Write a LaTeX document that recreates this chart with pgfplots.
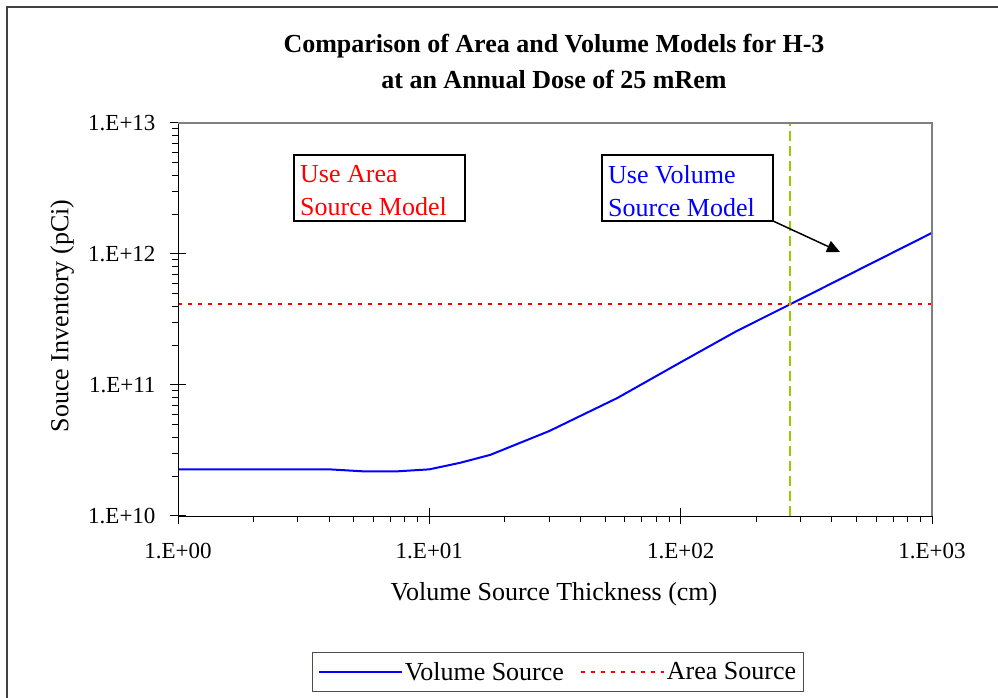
\documentclass[border=0pt]{standalone}
\usepackage{fontspec}
\setmainfont{Liberation Serif}
\usepackage{pgfplots}
\pgfplotsset{compat=1.18}
\usetikzlibrary{arrows.meta}
\definecolor{ygreen}{RGB}{153,204,0}
\begin{document}
\begin{tikzpicture}
\path[use as bounding box] (0pt,0pt) rectangle (998pt,698pt);
\draw[line width=1.5pt, black!75] (7pt,-2pt) -- (7pt,691pt) -- (1000pt,691pt);
\begin{axis}[
  at={(178pt,182pt)}, anchor=south west,
  width=754pt, height=393pt, scale only axis,
  xmode=log, ymode=log,
  xmin=1, xmax=1000, ymin=1e10, ymax=1e13,
  axis line style={draw=none},
  xtick={1,10,100,1000},
  xticklabels={\textrm{1.E+00},\textrm{1.E+01},\textrm{1.E+02},\textrm{1.E+03}},
  ytick={1e10,1e11,1e12,1e13},
  yticklabels={\textrm{1.E+10},\textrm{1.E+11},\textrm{1.E+12},\textrm{1.E+13}},
  minor xtick={2,3,4,5,6,7,8,9,20,30,40,50,60,70,80,90,200,300,400,500,600,700,800,900},
  minor ytick={2e10,3e10,4e10,5e10,6e10,7e10,8e10,9e10,2e11,3e11,4e11,5e11,6e11,7e11,8e11,9e11,2e12,3e12,4e12,5e12,6e12,7e12,8e12,9e12},
  tick align=outside, xtick pos=bottom, ytick pos=left,
  major tick length=8pt, minor tick length=6pt,
  every tick/.style={black, line width=1pt},
  extra x ticks={1,10,100,1000}, extra x tick labels={},
  extra x tick style={tick align=inside, major tick length=8pt},
  extra y ticks={1e10,1e11,1e12,1e13}, extra y tick labels={},
  extra y tick style={tick align=inside, major tick length=8pt},
  tick label style={font=\fontsize{23}{27}\selectfont},
  xticklabel shift=16pt,
  yticklabel shift=11pt,
  xlabel={Volume Source Thickness (cm)},
  ylabel={Souce Inventory (pCi)},
  label style={font=\fontsize{26}{30}\selectfont},
  xlabel style={at={(axis description cs:0.4987,-0.2)}, anchor=center},
  ylabel style={at={(axis description cs:-0.1538,0.509)}, anchor=center},
  title={Comparison of Area and Volume Models for H-3\\at an Annual Dose of 25 mRem},
  title style={at={(axis description cs:0.4987,1.14)}, anchor=center, align=center,
    font=\fontsize{26}{36}\selectfont\bfseries},
  legend columns=2,
  legend style={at={(0.504,-0.397)}, anchor=center, draw=black!70, line width=1pt,
    font=\fontsize{26}{30}\selectfont, inner xsep=5pt, inner ysep=8pt,
    /tikz/every even column/.append style={column sep=14pt}},
  legend cell align=left,
  legend image code/.code={\draw[#1] (0pt,0pt) -- (83pt,0pt);},
  clip=false,
]
\addplot[blue, line width=2pt] coordinates {
  (1,2.27e10) (4,2.27e10) (5.5,2.19e10) (7.4,2.19e10) (10,2.27e10)
  (13.3,2.55e10) (17.5,2.93e10) (30,4.45e10) (56,7.96e10) (100,1.49e11)
  (167,2.58e11) (272,4.12e11) (1000,1.45e12)};
\addlegendentry{Volume Source}
\addplot[red, line width=2pt, dash pattern=on 4pt off 6pt] coordinates {
  (1,4.12e11) (1000,4.12e11)};
\addlegendentry{Area Source}
\addplot[ygreen, line width=2pt, dash pattern=on 10pt off 5pt, forget plot] coordinates {
  (272,1e10) (272,1e13)};
\draw[black] (rel axis cs:0,0) -- (rel axis cs:1,0);
\draw[black] (rel axis cs:0,0) -- (rel axis cs:0,1);
\draw[black!50, line width=1.2pt] (rel axis cs:0,1) -- (rel axis cs:1,1) -- (rel axis cs:1,0);
\end{axis}
\begin{scope}[x=1pt,y=1pt]
\draw[line width=1.5pt] (294,543) rectangle (465,477);
\node[anchor=north west, text=red, align=left, font=\fontsize{26}{33}\selectfont, inner sep=0pt] at (300,533) {Use Area\\Source Model};
\draw[line width=1.5pt] (602,543) rectangle (773,477);
\node[anchor=north west, text=blue, align=left, font=\fontsize{26}{33}\selectfont, inner sep=0pt] at (608,533) {Use Volume\\Source Model};
\draw[line width=1.5pt, -{Triangle[length=13pt,width=12pt]}] (773,477) -- (840,446);
\end{scope}
\end{tikzpicture}
\end{document}
